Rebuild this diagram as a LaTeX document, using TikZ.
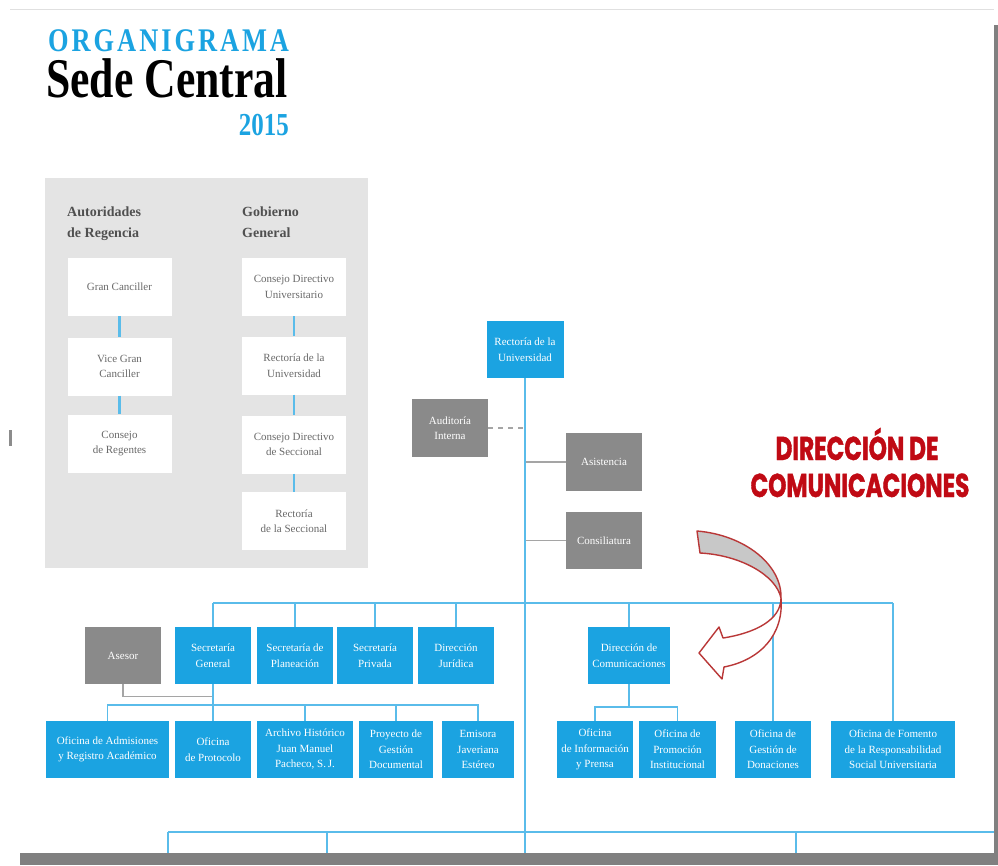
\documentclass[tikz,border=0pt]{standalone}
\usepackage{fontspec}
\setmainfont{Liberation Serif}
\newfontfamily\orgfont{Liberation Serif}[FakeStretch=0.8,LetterSpace=9]
\newfontfamily\sedefont{Liberation Serif}[FakeStretch=0.78]
\newfontfamily\redfont{Poppins}[FakeStretch=0.7,FakeBold=1.2]
\definecolor{orgblue}{RGB}{27,163,225}
\definecolor{linkblue}{RGB}{90,188,234}
\definecolor{boxgray}{RGB}{138,138,138}
\definecolor{linkgray}{RGB}{165,165,165}
\definecolor{panelgray}{RGB}{228,228,228}
\definecolor{paneltext}{RGB}{105,105,105}
\definecolor{headtext}{RGB}{80,80,80}
\definecolor{redtitle}{RGB}{192,10,20}
\definecolor{arrowred}{RGB}{185,55,55}
\definecolor{arrowgray}{RGB}{200,200,200}
\definecolor{shadowgray}{RGB}{128,128,128}
\tikzset{
  unitbox/.style={inner sep=1pt, align=center, minimum height=57pt, font=\fontsize{11}{15.5}\selectfont},
  bluebox/.style={unitbox, fill=orgblue, text=white},
  graybox/.style={unitbox, fill=boxgray, text=white},
  whitebox/.style={unitbox, fill=white, text=paneltext, minimum width=104pt, minimum height=58pt},
  blueline/.style={draw=linkblue, line width=1.4pt},
  grayline/.style={draw=linkgray, line width=1.4pt},
  panelline/.style={draw=linkblue, line width=2.2pt},
  redword/.style={anchor=base, text=redtitle, font=\redfont\bfseries\fontsize{33}{37}\selectfont}
}
\begin{document}
\begin{tikzpicture}[x=1pt, y=-1pt]
  \useasboundingbox (0,0) rectangle (998,865);
  % sheet and its shadow
  \fill[shadowgray] (20,25) rectangle (998,865);
  \fill[white] (10,9) rectangle (994,853);
  \draw[black!12, line width=0.6pt] (10,9) -- (994,9);
  \fill[black!45] (9,430) rectangle (12,446);

  \node[anchor=base west, inner sep=0, text depth=0pt, text=orgblue, font=\orgfont\bfseries\fontsize{33}{33}\selectfont] (org) at (48,51) {ORGANIGRAMA};
  \node[anchor=base west, inner sep=0, text height=36pt, font=\sedefont\bfseries\fontsize{56}{56}\selectfont] (sede) at (46,97) {Sede Central};
  \node[anchor=base east, inner sep=0, text=orgblue, font=\sedefont\bfseries\fontsize{32}{32}\selectfont] (year) at (289,135) {2015};

  \fill[panelgray] (45,178) rectangle (368,568);
  \node[anchor=north west, inner sep=0, align=left, text=headtext, font=\bfseries\fontsize{14}{21}\selectfont] (autoridades) at (67,207) {Autoridades\\de Regencia};
  \node[anchor=north west, inner sep=0, align=left, text=headtext, font=\bfseries\fontsize{14}{21}\selectfont] (gobierno) at (242,207) {Gobierno\\General};
  \foreach \name/\x/\y/\txt in {gc/119.5/287/{Gran Canciller}, vgc/119.5/366.5/{Vice Gran\\Canciller},
      cr/119.5/443.5/{Consejo\\de Regentes}, cdu/294/287/{Consejo Directivo\\Universitario},
      rdu/294/365.5/{Rectoría de la\\Universidad}, cds/294/444.5/{Consejo Directivo\\de Seccional},
      rds/294/521/{Rectoría\\de la Seccional}}
    \node[whitebox] (\name) at (\x,\y) {\txt};
  \foreach \a/\b in {gc/vgc, vgc/cr, cdu/rdu, rdu/cds, cds/rds}
    \draw[panelline] (\a) -- (\b);

  \node[bluebox, minimum width=77pt] (rect) at (525,349.5) {Rectoría de la\\Universidad};
  \node[graybox, minimum width=76pt, minimum height=58pt] (aud) at (450,428) {Auditoría\\Interna};
  \node[graybox, minimum width=76pt, minimum height=58pt] (asis) at (604,462) {Asistencia};
  \node[graybox, minimum width=76pt] (consil) at (604,540.5) {Consiliatura};

  \node[graybox, minimum width=76pt] (asesor) at (123,655.5) {Asesor};
  \foreach \name/\x/\w/\txt in {secgen/213/76/{Secretaría\\General}, planea/295/76/{Secretaría de\\Planeación},
      privada/375/76/{Secretaría\\Privada}, juridica/456/76/{Dirección\\Jurídica},
      dircom/629/82/{Dirección de\\Comunicaciones}}
    \node[bluebox, minimum width=\w pt] (\name) at (\x,655.5) {\txt};
  \foreach \name/\x/\w/\txt in {admis/107.5/123/{Oficina de Admisiones\\y Registro Académico},
      protocolo/213/76/{Oficina\\de Protocolo}, archivo/305/96/{Archivo Histórico\\Juan Manuel\\Pacheco, S.\,J.},
      proyecto/396/74/{Proyecto de\\Gestión\\Documental}, emisora/478/72/{Emisora\\Javeriana\\Estéreo},
      info/595/76/{Oficina\\de Información\\y Prensa}, promo/677.5/77/{Oficina de\\Promoción\\Institucional},
      donac/773/76/{Oficina de\\Gestión de\\Donaciones},
      fomento/893/124/{Oficina de Fomento\\de la Responsabilidad\\Social Universitaria}}
    \node[bluebox, minimum width=\w pt] (\name) at (\x,749.5) {\txt};

  \coordinate (busmain) at (0,603);
  \coordinate (pagefoot) at (0,853);
  \coordinate (busfoot) at (168,832);
  \coordinate (pageedge) at (994,832);
  \draw[grayline, dash pattern=on 5pt off 5pt] (aud.east) -- (aud.east -| rect.south);
  \draw[grayline] (asis.west) -- (asis.west -| rect.south);
  \draw[grayline] (consil.west) -- (consil.west -| rect.south);
  \draw[grayline] (asesor.south) -- ++(0,12) -| (secgen.south);
  \draw[blueline] (rect.south) -- (rect.south |- pagefoot);
  \draw[blueline] (secgen.north |- busmain) -- (fomento.north |- busmain);
  \foreach \n in {secgen, planea, privada, juridica, dircom, donac, fomento}
    \draw[blueline] (\n.north) -- (\n.north |- busmain);
  \draw[blueline] (secgen.south) -- (protocolo.north);
  \draw[blueline] (admis.north) -- ++(0,-16) -| (emisora.north);
  \foreach \n in {archivo, proyecto}
    \draw[blueline] (\n.north) -- ++(0,-16);
  \draw[blueline] (dircom.south) -- ++(0,23);
  \draw[blueline] (info.north) -- ++(0,-14) -| (promo.north);
  \draw[blueline] (busfoot) -- (pageedge);
  \foreach \i/\x in {1/168, 2/327, 3/796} {
    \coordinate (stub\i) at (\x,853);
    \draw[blueline] (stub\i) -- (stub\i |- busfoot);
  }

  \node[redword] (dirlabel) at (857,460) {DIRECCIÓN DE};
  \node[redword] (comlabel) at (860,497) {COMUNICACIONES};
  \filldraw[fill=arrowgray, draw=arrowred, line width=1.4pt, line join=round]
    (697,531) .. controls (745,535) and (782,565) .. (781,598)
    .. controls (776,575) and (740,555) .. (700,553) -- cycle;
  \filldraw[fill=white, draw=arrowred, line width=1.4pt, line join=round]
    (781,598) .. controls (781,620) and (755,633) .. (723,638) -- (719,627) -- (699,653)
    -- (722,679) -- (724,667) .. controls (760,660) and (784,635) .. (781,598) -- cycle;
\end{tikzpicture}
\end{document}
